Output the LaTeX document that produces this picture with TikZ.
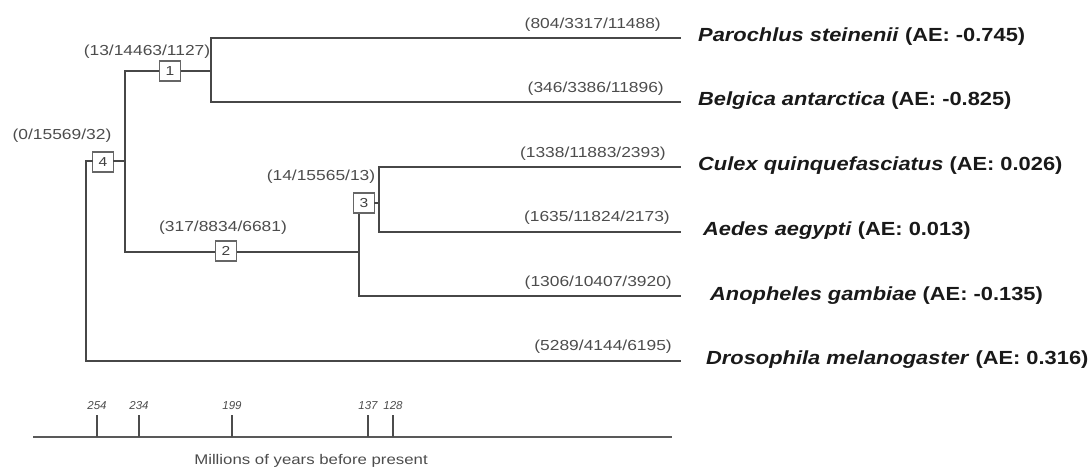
\documentclass[tikz,border=0pt]{standalone}
\usepackage{fontspec}
\setmainfont{Liberation Sans}
\newfontfamily\taxfont[FakeStretch=1.15]{Liberation Sans}
\newfontfamily\lblfont[FakeStretch=1.2]{Liberation Sans}
\begin{document}
\begin{tikzpicture}[x=1pt,y=-1pt,
  branch/.style={draw=black!72,line width=2.6pt,line cap=rect},
  nodebox/.style={draw=black!60,fill=white,line width=1.1pt,minimum width=21pt,minimum height=20pt,inner sep=0pt,font=\lblfont\fontsize{13}{13}\selectfont,text=black!75},
  cnt/.style={font=\lblfont\fontsize{14.5}{14.5}\selectfont,text=black!70,inner sep=0pt},
  taxon/.style={font=\taxfont\bfseries\fontsize{19}{19}\selectfont,text=black!90,anchor=west,inner sep=0pt},
  axis/.style={draw=black!65,line width=2pt},
  tick/.style={draw=black!70,line width=1.6pt},
  ticklbl/.style={font=\itshape\fontsize{11.5}{11.5}\selectfont,text=black!70,inner sep=0pt}]
\useasboundingbox (0,0) rectangle (1091,468);
% coordinates of the tree
\coordinate (eP) at (680,38);
\coordinate (eB) at (680,102);
\coordinate (eC) at (680,167);
\coordinate (eA) at (680,232);
\coordinate (eG) at (680,296);
\coordinate (eD) at (680,361);
\coordinate (v1t) at (211,38);
\coordinate (v1b) at (211,102);
\coordinate (v1m) at (211,71);
\coordinate (v4t) at (125,71);
\coordinate (v4b) at (125,252);
\coordinate (v4m) at (125,161);
\coordinate (r0) at (86,361);
\coordinate (r1) at (86,161);
\coordinate (v2e) at (359,252);
\coordinate (v3b) at (359,296);
\coordinate (v3t) at (359,213);
\coordinate (v5t) at (379,167);
\coordinate (v5b) at (379,232);
\coordinate (v5m) at (379,203);
% branches
\draw[branch] (v1t) -- (eP);
\draw[branch] (v1b) -- (eB);
\draw[branch] (v1t) -- (v1b);
\draw[branch] (v4t) -- (v1m);
\draw[branch] (v4t) -- (v4b);
\draw[branch] (v4b) -- (v2e);
\draw[branch] (v3t) -- (v3b);
\draw[branch] (v3b) -- (eG);
\draw[branch] (v5t) -- (v5b);
\draw[branch] (v5t) -- (eC);
\draw[branch] (v5b) -- (eA);
\draw[branch] (r1) -- (r0) -- (eD);
% boxes
\node[nodebox] (b1) at (170,71) {1};
\node[nodebox] (b4) at (103,162) {4};
\node[nodebox] (b2) at (226,251) {2};
\node[nodebox] (b3) at (364,203) {3};
\draw[branch] (r1) -- (b4.west |- r1);
\draw[branch] (b4.east |- v4m) -- (v4m);
\draw[branch,line width=1.4pt] (b3.east |- v5m) -- (v5m);
% node counts
\node[cnt] (c1) at (147,52) {(13/14463/1127)};
\node[cnt] (c4) at (62,136) {(0/15569/32)};
\node[cnt] (c3) at (321,177) {(14/15565/13)};
\node[cnt] (c2) at (223,228) {(317/8834/6681)};
% branch counts
\node[cnt,anchor=south east] (lP) at (661,32) {(804/3317/11488)};
\node[cnt,anchor=south east] (lB) at (664,96) {(346/3386/11896)};
\node[cnt,anchor=south east] (lC) at (666,161) {(1338/11883/2393)};
\node[cnt,anchor=south east] (lA) at (670,225) {(1635/11824/2173)};
\node[cnt,anchor=south east] (lG) at (672,290) {(1306/10407/3920)};
\node[cnt,anchor=south east] (lD) at (672,354) {(5289/4144/6195)};
% taxa
\node[taxon] (tP) at (698,37) {\textit{Parochlus steinenii} (AE: -0.745)};
\node[taxon] (tB) at (698,101) {\textit{Belgica antarctica} (AE: -0.825)};
\node[taxon] (tC) at (698,166) {\textit{Culex quinquefasciatus} (AE: 0.026)};
\node[taxon] (tA) at (703,231) {\textit{Aedes aegypti} (AE: 0.013)};
\node[taxon] (tG) at (710,296) {\textit{Anopheles gambiae} (AE: -0.135)};
\node[taxon] (tD) at (706,360) {\textit{Drosophila melanogaster} (AE: 0.316)};
% time axis
\coordinate (a0) at (33,437);
\coordinate (a1) at (672,437);
\draw[axis] (a0) -- (a1);
\foreach \xx/\lab in {97/254,139/234,232/199,368/137,393/128}{
  \coordinate (tk\lab) at (\xx,415);
  \draw[tick] (tk\lab) -- (\xx,437);
  \node[ticklbl,anchor=south] at (\xx,410) {\lab};
}
\node[font=\lblfont\fontsize{14}{14}\selectfont,text=black!70,inner sep=0pt] (axlbl) at (311,461) {Millions of years before present};
\end{tikzpicture}
\end{document}
